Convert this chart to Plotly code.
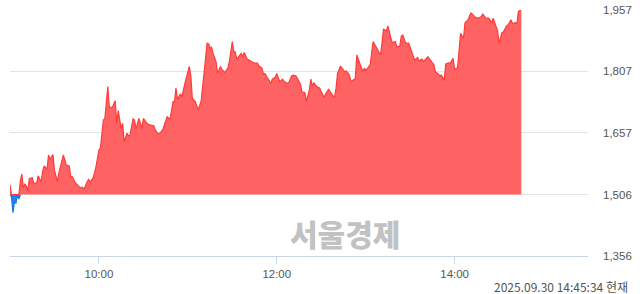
import numpy as np
import plotly.graph_objects as go

date = "2025-09-30"
base_price = 1506

times = [
    "09:00","09:01","09:02","09:03","09:04","09:05","09:06","09:07","09:08","09:09",
    "09:10","09:11","09:12","09:13","09:15","09:16","09:18","09:19","09:21","09:22",
    "09:23","09:25","09:26","09:27","09:29","09:30","09:32","09:33","09:34","09:36",
    "09:38","09:40","09:41","09:42","09:44","09:46","09:47","09:49","09:50","09:52",
    "09:53","09:54","09:56","09:57","09:58","10:00","10:01","10:03","10:04","10:06",
    "10:07","10:09","10:11","10:12","10:13","10:15","10:16","10:17","10:19","10:20",
    "10:21","10:23","10:24","10:25","10:27","10:29","10:30","10:32","10:33","10:35",
    "10:37","10:38","10:40","10:42","10:43","10:46","10:47","10:48","10:50","10:51",
    "10:52","10:53","10:55","10:56","10:58","11:00","11:01","11:02","11:03","11:05",
    "11:07","11:09","11:11","11:13","11:14","11:15","11:16","11:17","11:19","11:20",
    "11:22","11:23","11:25","11:27","11:28","11:30","11:31","11:32","11:33","11:35",
    "11:36","11:37","11:38","11:40","11:42","11:43","11:45","11:47","11:48","11:50",
    "11:51","11:52","11:54","11:56","11:57","11:59","12:00","12:01","12:02","12:04",
    "12:05","12:07","12:08","12:10","12:11","12:13","12:14","12:16","12:17","12:19",
    "12:20","12:22","12:23","12:24","12:25","12:27","12:29","12:30","12:32","12:33",
    "12:35","12:36","12:38","12:39","12:40","12:41","12:43","12:44","12:46","12:47",
    "12:49","12:50","12:51","12:53","12:54","12:55","12:56","12:58","12:59","13:00",
    "13:02","13:03","13:05","13:06","13:08","13:10","13:11","13:12","13:14","13:15",
    "13:17","13:18","13:20","13:21","13:23","13:24","13:25","13:27","13:29","13:30",
    "13:32","13:33","13:35","13:36","13:38","13:39","13:41","13:42","13:44","13:46",
    "13:47","13:49","13:50","13:51","13:53","13:54","13:56","13:57","13:59","14:00",
    "14:02","14:03","14:04","14:06","14:07","14:09","14:11","14:12","14:14","14:16",
    "14:18","14:19","14:21","14:23","14:25","14:26","14:27","14:29","14:30","14:32",
    "14:33","14:35","14:36","14:38","14:39","14:41","14:42","14:43","14:44","14:45",
]

prices = [
    1530,1500,1462,1488,1485,1505,1495,1540,1556,1522,
    1532,1527,1515,1545,1547,1534,1534,1552,1537,1562,
    1576,1568,1603,1592,1604,1566,1537,1559,1573,1603,
    1578,1576,1550,1550,1535,1529,1524,1524,1519,1537,
    1543,1537,1546,1559,1574,1615,1620,1688,1692,1770,
    1719,1719,1735,1680,1711,1668,1680,1635,1656,1649,
    1652,1691,1688,1666,1692,1668,1692,1682,1678,1676,
    1674,1664,1653,1660,1664,1696,1692,1690,1733,1733,
    1766,1739,1752,1745,1778,1809,1819,1796,1741,1733,
    1713,1735,1807,1876,1874,1863,1867,1851,1831,1802,
    1819,1812,1804,1815,1831,1880,1855,1855,1837,1845,
    1851,1843,1853,1837,1833,1831,1827,1827,1820,1815,
    1800,1802,1790,1778,1788,1793,1802,1790,1782,1788,
    1782,1778,1779,1796,1798,1796,1790,1776,1757,1755,
    1733,1762,1788,1771,1779,1770,1766,1757,1744,1752,
    1763,1757,1747,1744,1766,1802,1820,1815,1806,1808,
    1798,1782,1784,1790,1847,1839,1827,1806,1815,1809,
    1817,1823,1880,1873,1859,1847,1876,1910,1906,1918,
    1888,1877,1880,1867,1869,1893,1896,1876,1876,1866,
    1843,1835,1841,1833,1837,1831,1839,1843,1833,1823,
    1806,1801,1796,1798,1786,1825,1828,1827,1839,1812,
    1816,1855,1900,1888,1926,1933,1950,1947,1939,1937,
    1941,1947,1937,1937,1926,1937,1928,1906,1876,1902,
    1904,1918,1920,1933,1924,1926,1923,1953,1957,1957,
]

y_ticks = [1356, 1506, 1657, 1807, 1957]
y_tick_labels = ["1,356", "1,506", "1,657", "1,807", "1,957"]
x_ticks = ["10:00", "12:00", "14:00"]
x_range = ["09:00", "15:30"]
watermark = "서울경제"
timestamp_text = "2025.09.30 14:45:34 현재"

xs = [f"{date} {t}" for t in times]
p = np.array(prices, dtype=float)
up = np.maximum(p, base_price)
down = np.minimum(p, base_price)
base = [base_price] * len(xs)

# blue outline only where price is below the base (plus neighbours)
below = p < base_price
mask = below.copy()
mask[1:] |= below[:-1]
mask[:-1] |= below[1:]
down_line = np.where(mask, down, np.nan)

fig = go.Figure()
fig.add_trace(go.Scatter(x=xs, y=base, mode="lines", line=dict(width=0, color="rgba(0,0,0,0)"),
                         hoverinfo="skip", showlegend=False))
fig.add_trace(go.Scatter(x=xs, y=down, mode="lines", fill="tonexty",
                         fillcolor="rgba(40,128,240,1)",
                         line=dict(width=0, color="rgba(0,0,0,0)"),
                         showlegend=False))
fig.add_trace(go.Scatter(x=xs, y=down_line, mode="lines",
                         line=dict(color="#1a74e8", width=1.2),
                         connectgaps=False, hoverinfo="skip", showlegend=False))
fig.add_trace(go.Scatter(x=xs, y=base, mode="lines", line=dict(width=0, color="rgba(0,0,0,0)"),
                         hoverinfo="skip", showlegend=False))
fig.add_trace(go.Scatter(x=xs, y=up, mode="lines", fill="tonexty",
                         fillcolor="rgba(255,98,98,1)",
                         line=dict(color="#ff3b3b", width=1.2),
                         showlegend=False))

fig.add_annotation(text=watermark, xref="paper", yref="paper",
                   x=(345 - 10) / 578, y=(256 - 233) / 246, showarrow=False,
                   font=dict(family="Noto Sans CJK KR", size=30, color="#c2c2c2", weight=900),
                   xanchor="center", yanchor="middle")
fig.add_annotation(text=timestamp_text, xref="paper", yref="paper",
                   x=(630 - 10) / 578, y=(256 - 286) / 246, showarrow=False,
                   font=dict(family="Noto Sans CJK KR, DejaVu Sans", size=12, color="#555555"),
                   xanchor="right", yanchor="middle")

fig.update_layout(
    width=640, height=294,
    margin=dict(l=10, r=52, t=10, b=38),
    paper_bgcolor="white", plot_bgcolor="white",
    font=dict(family="Liberation Sans", size=11.5, color="#555555"),
    xaxis=dict(
        type="date",
        range=[f"{date} {x_range[0]}", f"{date} {x_range[1]}"],
        tickvals=[f"{date} {t}" for t in x_ticks],
        ticktext=x_ticks,
        showgrid=False, zeroline=False, automargin=False,
        showline=True, linecolor="#c8d5ea", linewidth=1,
        ticks="outside", ticklen=7, tickcolor="#c8d5ea",
        tickfont=dict(size=11.5, color="#555555"),
    ),
    yaxis=dict(
        range=[1356, 1957], side="right", automargin=False,
        tickvals=y_ticks, ticktext=y_tick_labels,
        showgrid=True, gridcolor="#e3e3e3", gridwidth=1,
        zeroline=False, showline=False, ticks="",
        ticklabelstandoff=14,
        tickfont=dict(size=11.5, color="#555555"),
    ),
)

fig.write_html("out.html")
